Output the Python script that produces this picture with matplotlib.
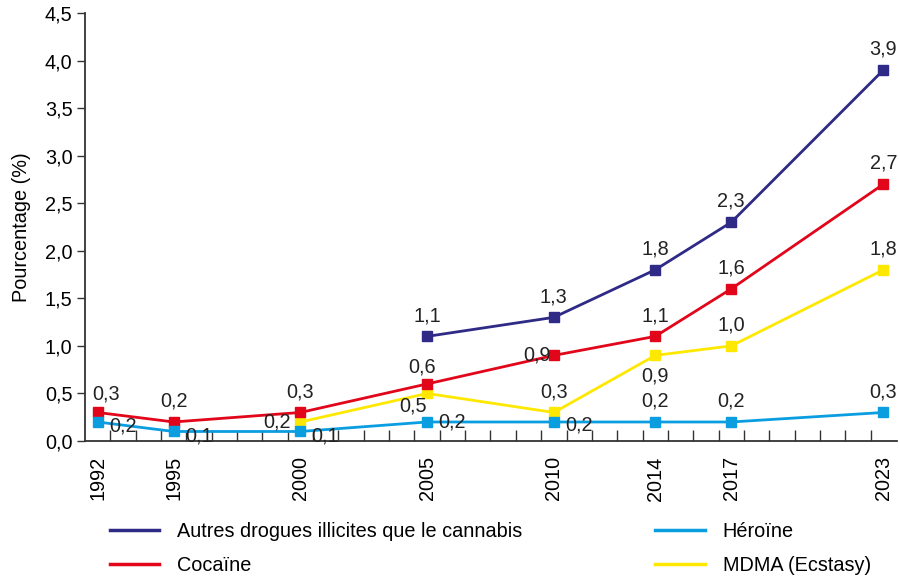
import matplotlib
matplotlib.use("Agg")
import matplotlib.pyplot as plt
from matplotlib.lines import Line2D
import numpy as np

plt.rcParams["font.family"] = ["Liberation Sans", "DejaVu Sans"]

# data
years = [1992, 1995, 2000, 2005, 2010, 2014, 2017, 2023]
autres_years = [2005, 2010, 2014, 2017, 2023]
autres = [1.1, 1.3, 1.8, 2.3, 3.9]
cocaine = [0.3, 0.2, 0.3, 0.6, 0.9, 1.1, 1.6, 2.7]
heroine = [0.2, 0.1, 0.1, 0.2, 0.2, 0.2, 0.2, 0.3]
mdma_years = [2000, 2005, 2010, 2014, 2017, 2023]
mdma = [0.2, 0.5, 0.3, 0.9, 1.0, 1.8]

names = ["Autres drogues illicites que le cannabis", "Cocaïne", "Héroïne", "MDMA (Ecstasy)"]
colors = ["#2e2a86", "#e2061b", "#0a9ee0", "#ffe800"]
yticks = [0, 0.5, 1.0, 1.5, 2.0, 2.5, 3.0, 3.5, 4.0, 4.5]

FS = 14.3

# label offsets in points (dx, dy) for each point
UP = (0, 15)
off_autres = [UP] * 5
off_cocaine = [(6, 13), UP, UP, (-4, 12), (-12, 0), UP, UP, UP]
off_heroine = [(18, -3), (18, -3), (18, -3), (18, 0), (18, -2), UP, UP, UP]
off_mdma = [(-17, 0), (-10, -9), UP, (0, -15), UP, UP]

fig = plt.figure(figsize=(9, 5.77), dpi=100)
ax = fig.add_axes([0.0944, 0.2357, 0.9026, 0.7418])

series = [
    (mdma_years, mdma, colors[3], off_mdma, 1),
    (years, cocaine, colors[1], off_cocaine, 2),
    (years, heroine, colors[2], off_heroine, 3),
    (autres_years, autres, colors[0], off_autres, 4),
]
for xs, ys, c, offs, z in series:
    ax.plot(xs, ys, color=c, lw=2, marker="s", markersize=7.5, zorder=z)
    for x, y, (dx, dy) in zip(xs, ys, offs):
        ax.annotate(f"{y:.1f}".replace(".", ","), (x, y), xytext=(dx, dy),
                    textcoords="offset points", ha="center", va="center",
                    fontsize=FS, color="#222222", zorder=6)

ax.set_xlim(1991.5, 2023.55)
ax.set_ylim(0, 4.5)
ax.set_xticks(years)
ax.set_xticklabels([str(y) for y in years], rotation=90, fontsize=FS)
ax.set_xticks(np.arange(1992.5, 2023, 1.0), minor=True)
ax.tick_params(axis="x", which="major", length=0, pad=11)
ax.tick_params(axis="x", which="minor", direction="in", length=8, width=1, color="#333333")
ax.set_yticks(yticks)
ax.set_yticklabels([f"{v:.1f}".replace(".", ",") for v in yticks], fontsize=FS)
ax.tick_params(axis="y", length=6, width=1, color="#333333", pad=3)
ax.set_ylabel("Pourcentage (%)", fontsize=FS, labelpad=10)

for s in ["top", "right"]:
    ax.spines[s].set_visible(False)
for s in ["left", "bottom"]:
    ax.spines[s].set_color("#333333")
    ax.spines[s].set_linewidth(1.3)

handles = [Line2D([], [], color=c, lw=2.5) for c in colors]
leg_kw = dict(frameon=False, fontsize=FS, handlelength=2.5, handletextpad=0.9,
              labelspacing=0.75, borderpad=0, borderaxespad=0, loc="upper left")
fig.legend(handles[:2], names[:2], bbox_to_anchor=(0.122, 0.095), **leg_kw)
fig.legend(handles[2:], names[2:], bbox_to_anchor=(0.728, 0.095), **leg_kw)

fig.savefig("out.png", dpi=100)
